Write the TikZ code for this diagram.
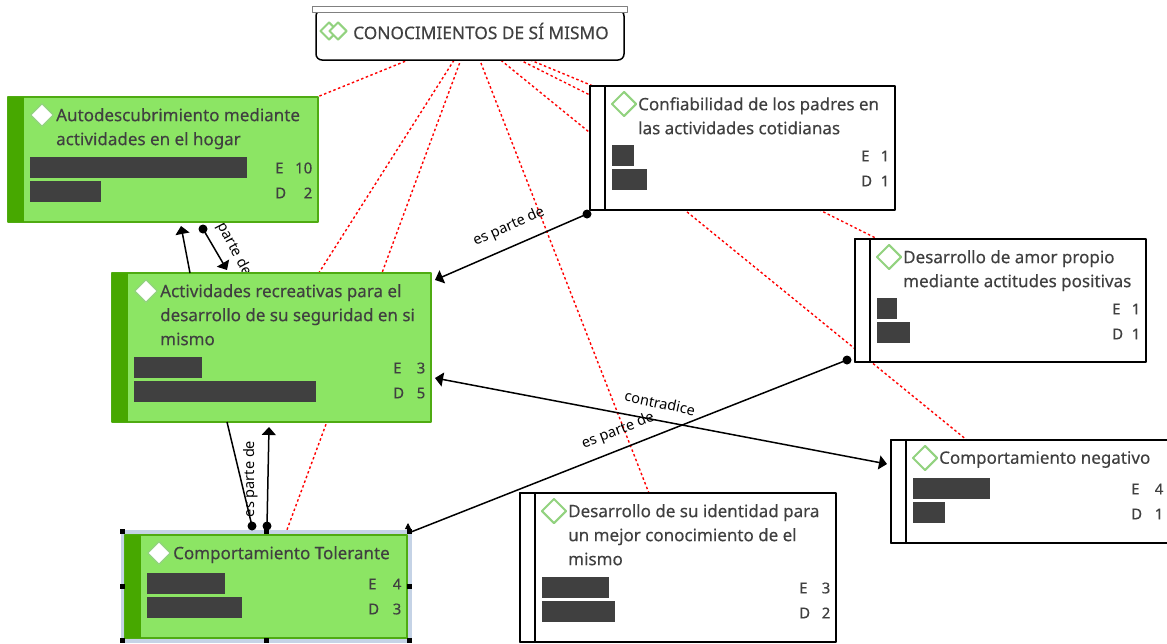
\documentclass[tikz,border=0pt]{standalone}
\usepackage{fontspec}
\setmainfont{Noto Sans}
\newfontfamily\titlefont[FakeBold=0.3]{Noto Sans}
\usetikzlibrary{arrows.meta,backgrounds,shapes.geometric}
\definecolor{cardfill}{HTML}{8CE564}
\definecolor{cardedge}{HTML}{4FAB12}
\definecolor{cardstrip}{HTML}{47A800}
\definecolor{gemedge}{HTML}{92D27F}
\definecolor{inktext}{HTML}{404040}
\definecolor{selframe}{HTML}{C5D3E6}
\tikzset{
	cardg/.style={draw=cardedge,fill=cardfill,line width=1.5pt,inner sep=0pt,outer sep=0pt},
	cardw/.style={draw=black,fill=white,line width=1.5pt,inner sep=0pt,outer sep=0pt},
	stripg/.style={fill=cardstrip,inner sep=0pt,outer sep=0pt,anchor=north west,minimum width=16pt},
	stripw/.style={draw=black,fill=white,line width=1.5pt,inner sep=0pt,outer sep=0pt,anchor=north west,minimum width=15pt},
	gemg/.style={diamond,draw=gemedge,fill=white,line width=1.2pt,inner sep=0pt,minimum size=23pt},
	gemw/.style={diamond,draw=gemedge,fill=white,line width=2pt,inner sep=0pt,minimum size=25pt},
	cardtitle/.style={anchor=north west,align=left,inner sep=0pt,text=inktext,font=\titlefont\fontsize{17}{24}\selectfont},
	bar/.style={fill=inktext,inner sep=0pt,anchor=north west,minimum height=21pt},
	score/.style={inner sep=0pt,text=inktext,font=\titlefont\fontsize{15}{16}\selectfont},
	redlink/.style={red,dash pattern=on 2.5pt off 2.5pt,line width=1.4pt},
	link/.style={black,line width=1.5pt},
	linklabel/.style={inner sep=0pt,font=\fontsize{14.5}{15}\selectfont},
	handle/.style={fill=black,inner sep=0pt,minimum size=5pt},
}
\begin{document}
\begin{tikzpicture}[x=1pt,y=-1pt,>={Triangle[length=8pt,width=14pt]},line join=round]
	\useasboundingbox (0,0) rectangle (1167,643);
	% marco de seleccion
	\node[fill=selframe,inner sep=0pt,minimum width=291pt,minimum height=113pt] (sel) at (266.5,586.5) {};
	% tarjetas
	\foreach \nm/\xa/\ya/\bw/\bh/\kind/\ttl/\tb/\wa/\wb/\vE/\vD/\eo in {
		auto/8/97/310/125/g/{Autodescubrimiento mediante\\actividades en el hogar}/60/217/71/10/2/43,
		act/112/273/319/149/g/{Actividades recreativas para el\\desarrollo de su seguridad en si\\mismo}/84/68/182/3/5/38,
		tol/125/535/282/103/g/{Comportamiento Tolerante}/38/78/95/4/3/39,
		conf/590/86/305/124/w/{Confiabilidad de los padres en\\las actividades cotidianas}/59/22/35/1/1/34,
		amor/855/239/291/123/w/{Desarrollo de amor propio\\mediante actitudes positivas}/59/20/33/1/1/34,
		neg/891/440/278/103/w/{Comportamiento negativo}/38/77/32/4/1/38,
		iden/520/493/316/149/w/{Desarrollo de su identidad para\\un mejor conocimiento de el\\mismo}/84/67/73/3/2/37%
	}{
		\node[card\kind,minimum width=\bw pt,minimum height=\bh pt] (\nm) at (\xa+\bw/2,\ya+\bh/2) {};
		\node[strip\kind,minimum height=\bh pt] (\nm strip) at (\xa,\ya) {};
		\node[gem\kind] (\nm gem) at (\xa+34,\ya+18) {};
		\node[cardtitle] (\nm title) at (\xa+48,\ya+11) {\ttl};
		\node[bar,minimum width=\wa pt] (\nm bara) at (\xa+22,\ya+\tb) {};
		\node[bar,minimum width=\wb pt] (\nm barb) at (\xa+22,\ya+\tb+24) {};
		\node[score,anchor=west] (\nm e) at (\xa+\bw-\eo,\ya+\tb+11) {E};
		\node[score,anchor=east] (\nm ev) at (\xa+\bw-5.5,\ya+\tb+11) {\vE};
		\node[score,anchor=west] (\nm d) at (\xa+\bw-\eo,\ya+\tb+36) {D};
		\node[score,anchor=east] (\nm dv) at (\xa+\bw-5.5,\ya+\tb+36) {\vD};
	}
	% nodo superior
	\node[draw=black,fill=white,line width=1.5pt,rounded corners=6pt,minimum width=308pt,minimum height=50pt,inner sep=0pt] (know) at (470,35) {};
	\node[draw=gray,fill=white,line width=1.5pt,minimum width=315pt,minimum height=6pt,inner sep=0pt] (knowbar) at (470,9.5) {};
	\node[diamond,draw=gemedge,line width=2pt,inner sep=0pt,minimum size=18pt] (knowgema) at (329,31) {};
	\node[diamond,draw=gemedge,fill=white,line width=2pt,inner sep=0pt,minimum size=18pt] (knowgemb) at (338,31) {};
	\node[anchor=west,inner sep=0pt,text=inktext,font=\titlefont\fontsize{17.3}{18}\selectfont] (knowtext) at (353,31) {CONOCIMIENTOS DE SÍ MISMO};
	% lineas rojas y etiqueta tapada
	\begin{scope}[on background layer]
		\foreach \nm in {auto,act,tol,conf,amor,neg,iden}\draw[redlink] (know.center)--(\nm.center);
		\node[linklabel,rotate=-62] (autolabel) at (230,241) {es parte de};
	\end{scope}
	% extremos de los conectores
	\path
	(190,273) coordinate (actup)
	(181,226) coordinate (autoin)
	(203,229) coordinate (autodot)
	(227,270) coordinate (actin)
	(227,422) coordinate (actdown)
	(252,526) coordinate (toldota)
	(267,526) coordinate (toldotb)
	(269,427) coordinate (actbelow)
	(587,214) coordinate (confdot)
	(435,280) coordinate (actright)
	(847,360) coordinate (amordot)
	(411,532) coordinate (tolcorner)
	(408,532) coordinate (tolbase)
	(408,523) coordinate (toltip)
	(435,378) coordinate (actcontra)
	(887,464) coordinate (negcontra)
	;
	\draw[link,->] (actup)--(autoin);
	\draw[link,->] (autodot)--(actin);
	\draw[link] (actdown)--(toldota);
	\draw[link,->] (toldotb)--(actbelow);
	\draw[link,->] (confdot)--(actright);
	\draw[link] (amordot)--(tolcorner);
	\draw[line width=.8pt,-{Triangle[length=6pt,width=6pt]}] (tolbase)--(toltip);
	\draw[link,<->] (actcontra)--(negcontra);
	\foreach \x in {autodot,toldota,toldotb,confdot,amordot}\fill[black](\x) circle (4.5pt);
	\foreach \x/\y in {122/531,266/531,409/531,122/586,409/586,122/640,266/640,409/640}\node[handle] (h\x-\y) at (\x,\y) {};
	% etiquetas
	\node[linklabel,rotate=90] (tollabel) at (251,479) {es parte de};
	\node[linklabel,rotate=24] (conflabel) at (509,227) {es parte de};
	\node[linklabel,rotate=21] (amorlabel) at (618,431) {es parte de};
	\node[linklabel,rotate=-12] (contralabel) at (660,403) {contradice};
\end{tikzpicture}
\end{document}
